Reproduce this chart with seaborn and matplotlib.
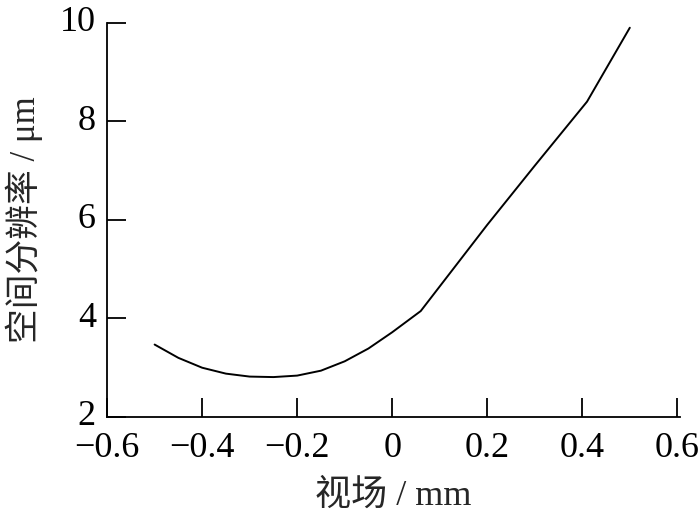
import numpy as np
import pandas as pd
import matplotlib
matplotlib.use("Agg")
import matplotlib.pyplot as plt
import matplotlib.transforms as mtransforms
import seaborn as sns

# field of view (mm) and spatial resolution (um)
fov_mm = [-0.5, -0.45, -0.4, -0.35, -0.3, -0.25, -0.2, -0.15, -0.1, -0.05,
          0.0, 0.06, 0.2, 0.3, 0.41, 0.5]
resolution_um = [3.47, 3.20, 3.00, 2.88, 2.82, 2.81, 2.84, 2.94, 3.13, 3.39,
                 3.72, 4.15, 5.90, 7.10, 8.40, 9.90]

x_ticks = [-0.6, -0.4, -0.2, 0, 0.2, 0.4, 0.6]
x_tick_labels = ["\u22120.6", "\u22120.4", "\u22120.2", "0", "0.2", "0.4", "0.6"]
y_ticks = [2, 4, 6, 8, 10]

df = pd.DataFrame({"fov": fov_mm, "res": resolution_um})

sns.set_style("ticks")
plt.rcParams['font.family'] = ['Liberation Serif', 'Noto Sans CJK SC']
plt.rcParams['xtick.direction'] = 'in'
plt.rcParams['ytick.direction'] = 'in'

fig = plt.figure(figsize=(7, 5.18), dpi=100)
ax = fig.add_axes([0.153, 0.195, 0.818, 0.761])

sns.lineplot(data=df, x="fov", y="res", color="black", linewidth=1.4, ax=ax)

ax.set_xlim(-0.6, 0.605)
ax.set_ylim(2, 10)
ax.set_xticks(x_ticks)
ax.set_xticklabels(x_tick_labels)
ax.set_yticks(y_ticks)
ax.tick_params(labelsize=26, length=14, width=1.3, colors="black")
ax.tick_params(axis="x", pad=11)
ax.tick_params(axis="y", pad=8)
for s in ["top", "right"]:
    ax.spines[s].set_visible(False)
for s in ["left", "bottom"]:
    ax.spines[s].set_linewidth(1.3)
    ax.spines[s].set_color("black")

# y tick labels sit a little above their ticks in the reference
shift = mtransforms.ScaledTranslation(0, 0.04, fig.dpi_scale_trans)
for lab in ax.get_yticklabels():
    lab.set_transform(lab.get_transform() + shift)

ax.set_xlabel("视场 / mm", fontsize=26, labelpad=10)
ax.set_ylabel("空间分辨率 / μm", fontsize=25, labelpad=12)

fig.savefig("out.png", dpi=100)
